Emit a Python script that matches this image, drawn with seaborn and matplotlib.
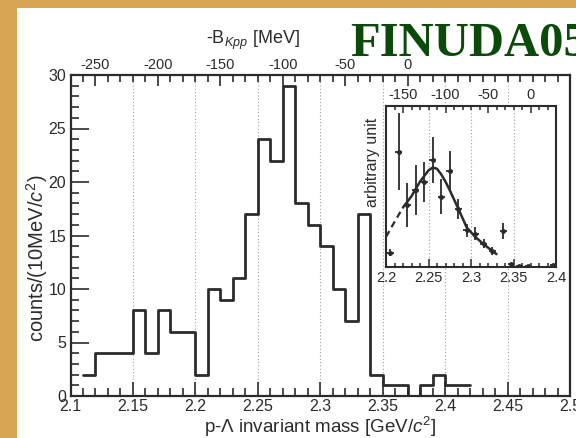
import numpy as np
import pandas as pd
import matplotlib
matplotlib.use('Agg')
import matplotlib.pyplot as plt
import matplotlib.ticker as mticker
from matplotlib.patches import Rectangle
import seaborn as sns

# ---------------- data ----------------
# main histogram: 10 MeV bins, lower edges 2.11 ... 2.41 GeV
bin_low = [2.11, 2.12, 2.13, 2.14, 2.15, 2.16, 2.17, 2.18, 2.19, 2.20,
           2.21, 2.22, 2.23, 2.24, 2.25, 2.26, 2.27, 2.28, 2.29, 2.30,
           2.31, 2.32, 2.33, 2.34, 2.35, 2.36, 2.37, 2.38, 2.39, 2.40, 2.41]
counts = [2, 4, 4, 4, 8, 4, 8, 6, 6, 2,
          10, 9, 11, 17, 24, 22, 29, 18, 16, 14,
          10, 7, 17, 2, 1, 1, 0, 1, 2, 1, 1]
bin_width = 0.01

# inset: points with errors (arbitrary unit)
inset_x = [2.205, 2.215, 2.225, 2.235, 2.245, 2.255, 2.265, 2.275, 2.285,
           2.295, 2.305, 2.315, 2.325, 2.338, 2.347, 2.357, 2.367, 2.397]
inset_y = [0.089, 0.716, 0.384, 0.477, 0.529, 0.664, 0.436, 0.598, 0.363,
           0.228, 0.207, 0.145, 0.100, 0.224, 0.020, 0.008, 0.008, 0.015]
inset_err = [0.020, 0.240, 0.135, 0.156, 0.124, 0.145, 0.108, 0.124, 0.062,
             0.040, 0.040, 0.030, 0.025, 0.050, 0.005, 0.005, 0.005, 0.005]

# inset: fitted curve
curve_x = [2.200, 2.210, 2.220, 2.230, 2.240, 2.250, 2.255, 2.260, 2.265,
           2.270, 2.275, 2.285, 2.295, 2.305, 2.315, 2.325, 2.330]
curve_y = [0.187, 0.280, 0.370, 0.440, 0.530, 0.600, 0.618, 0.610, 0.575,
           0.530, 0.477, 0.363, 0.245, 0.187, 0.141, 0.100, 0.080]
n_dashed = 3

threshold = 2.370  # K- p p mass, GeV

main_xticks = [2.1, 2.15, 2.2, 2.25, 2.3, 2.35, 2.4, 2.45, 2.5]
top_ticks = [-250, -200, -150, -100, -50, 0]
inset_xticks = [2.2, 2.25, 2.3, 2.35, 2.4]
inset_top_ticks = [-150, -100, -50, 0]

# ---------------- style ----------------
sns.set_style('ticks')
plt.rcParams['font.family'] = ['Liberation Sans', 'DejaVu Sans']
plt.rcParams['mathtext.fontset'] = 'custom'
plt.rcParams['mathtext.rm'] = 'Liberation Sans'
plt.rcParams['mathtext.it'] = 'Liberation Sans:italic'
plt.rcParams['mathtext.bf'] = 'Liberation Sans:bold'
plt.rcParams['axes.unicode_minus'] = False

ink = '#2b2b2b'
parchment = '#d6a552'

fig = plt.figure(figsize=(5.76, 4.38), dpi=100)
fig.patch.set_facecolor(parchment)
fig.patches.append(Rectangle((17 / 576, 0), 1, (438 - 7.5) / 438,
                             transform=fig.transFigure, facecolor='white',
                             edgecolor='none', zorder=-10))

# ---------------- main plot ----------------
ax = fig.add_axes([70.5 / 576, 42 / 438, 499.5 / 576, 321 / 438])
ax.set_facecolor('white')

hist_df = pd.DataFrame({'mass': np.array(bin_low) + bin_width / 2,
                        'counts': counts})
edges = list(bin_low) + [bin_low[-1] + bin_width]
sns.histplot(data=hist_df, x='mass', weights='counts', bins=edges,
             element='step', fill=False, color=ink, linewidth=2.0, ax=ax)

ax.set_xlim(2.1, 2.5)
ax.set_ylim(0, 30)
for gx in main_xticks[1:-1]:
    ax.axvline(gx, color='#a0a0a0', linestyle=(0, (1, 2)), linewidth=0.8,
               zorder=0)

ax.xaxis.set_major_locator(mticker.FixedLocator(main_xticks))
ax.xaxis.set_major_formatter(mticker.FuncFormatter(lambda v, p: f'{v:g}'))
ax.xaxis.set_minor_locator(mticker.MultipleLocator(0.01))
ax.yaxis.set_major_locator(mticker.MultipleLocator(5))
ax.yaxis.set_minor_locator(mticker.MultipleLocator(1))
ax.tick_params(axis='x', which='major', direction='in', length=10, width=1.2,
               labelsize=11.5, pad=2, colors=ink)
ax.tick_params(axis='x', which='minor', direction='in', length=6, width=1.2,
               colors=ink)
ax.tick_params(axis='y', which='major', direction='in', length=13, width=1.2,
               labelsize=11.5, pad=3, colors=ink)
ax.tick_params(axis='y', which='minor', direction='in', length=6, width=1.2,
               colors=ink)
for sp in ax.spines.values():
    sp.set_visible(True)
    sp.set_linewidth(1.6)
    sp.set_color(ink)

ax.set_xlabel(r'p-$\Lambda$ invariant mass [GeV/$c^2$]', fontsize=13.5,
              color=ink, labelpad=0)
ax.xaxis.set_label_coords(0.5, -0.058)
ax.set_ylabel(r'counts/(10MeV/$c^2$)', fontsize=14.5, color=ink)
ax.yaxis.set_label_coords(-0.042, 0.43)

top = ax.secondary_xaxis('top', functions=(lambda m: (m - threshold) * 1000,
                                           lambda b: b / 1000 + threshold))
top.xaxis.set_major_locator(mticker.FixedLocator(top_ticks))
top.xaxis.set_minor_locator(mticker.MultipleLocator(10))
top.tick_params(which='major', direction='in', length=8, width=1.2,
                labelsize=10.5, pad=2, colors=ink)
top.tick_params(which='minor', direction='in', length=5, width=1.2,
                colors=ink)
top.spines['top'].set_visible(False)

fig.text(253 / 576, 1 - 40 / 438, r'-B$_{Kpp}$ [MeV]', fontsize=13,
         color=ink, ha='center', va='center')

fig.text(350 / 576, 1 - 44 / 438, 'FINUDA05', fontsize=35,
         family=['Liberation Serif', 'DejaVu Serif'], fontweight='bold',
         color='#0b4a0b', ha='left', va='center')

# ---------------- inset ----------------
ins = fig.add_axes([386 / 576, (438 - 267) / 438, 170 / 576, 161 / 438])
ins.set_facecolor('white')
sns.lineplot(x=curve_x[:n_dashed], y=curve_y[:n_dashed], ax=ins, color=ink,
             linewidth=1.6, linestyle=(0, (3, 2)))
sns.lineplot(x=curve_x[n_dashed - 1:], y=curve_y[n_dashed - 1:], ax=ins,
             color=ink, linewidth=1.8)
ins.errorbar(inset_x, inset_y, yerr=inset_err, xerr=0.004, fmt='o',
             markersize=2.5, color=ink, ecolor=ink, elinewidth=1.3,
             capsize=0)

ins.set_xlim(2.2, 2.4)
ins.set_ylim(0, 1)
for gx in inset_xticks[1:-1]:
    ins.axvline(gx, color='#a0a0a0', linestyle=(0, (1, 2)), linewidth=0.8,
                zorder=0)
ins.xaxis.set_major_locator(mticker.FixedLocator(inset_xticks))
ins.xaxis.set_major_formatter(mticker.FuncFormatter(lambda v, p: f'{v:g}'))
ins.xaxis.set_minor_locator(mticker.MultipleLocator(0.01))
ins.set_yticks([])
ins.tick_params(axis='x', which='major', direction='in', length=6, width=1.1,
                labelsize=10.5, pad=3, colors=ink)
ins.tick_params(axis='x', which='minor', direction='in', length=3, width=1.1,
                colors=ink)
for sp in ins.spines.values():
    sp.set_visible(True)
    sp.set_linewidth(1.5)
    sp.set_color(ink)
ins.set_ylabel('arbitrary unit', fontsize=11.5, color=ink)
ins.yaxis.set_label_coords(-0.035, 0.65)

itop = ins.secondary_xaxis('top', functions=(lambda m: (m - threshold) * 1000,
                                             lambda b: b / 1000 + threshold))
itop.xaxis.set_major_locator(mticker.FixedLocator(inset_top_ticks))
itop.xaxis.set_minor_locator(mticker.MultipleLocator(10))
itop.tick_params(which='major', direction='in', length=5, width=1.1,
                 labelsize=10.5, pad=3, colors=ink)
itop.tick_params(which='minor', direction='in', length=3, width=1.1,
                 colors=ink)
itop.spines['top'].set_visible(False)

fig.savefig('out.png', dpi=100, facecolor=fig.get_facecolor())
